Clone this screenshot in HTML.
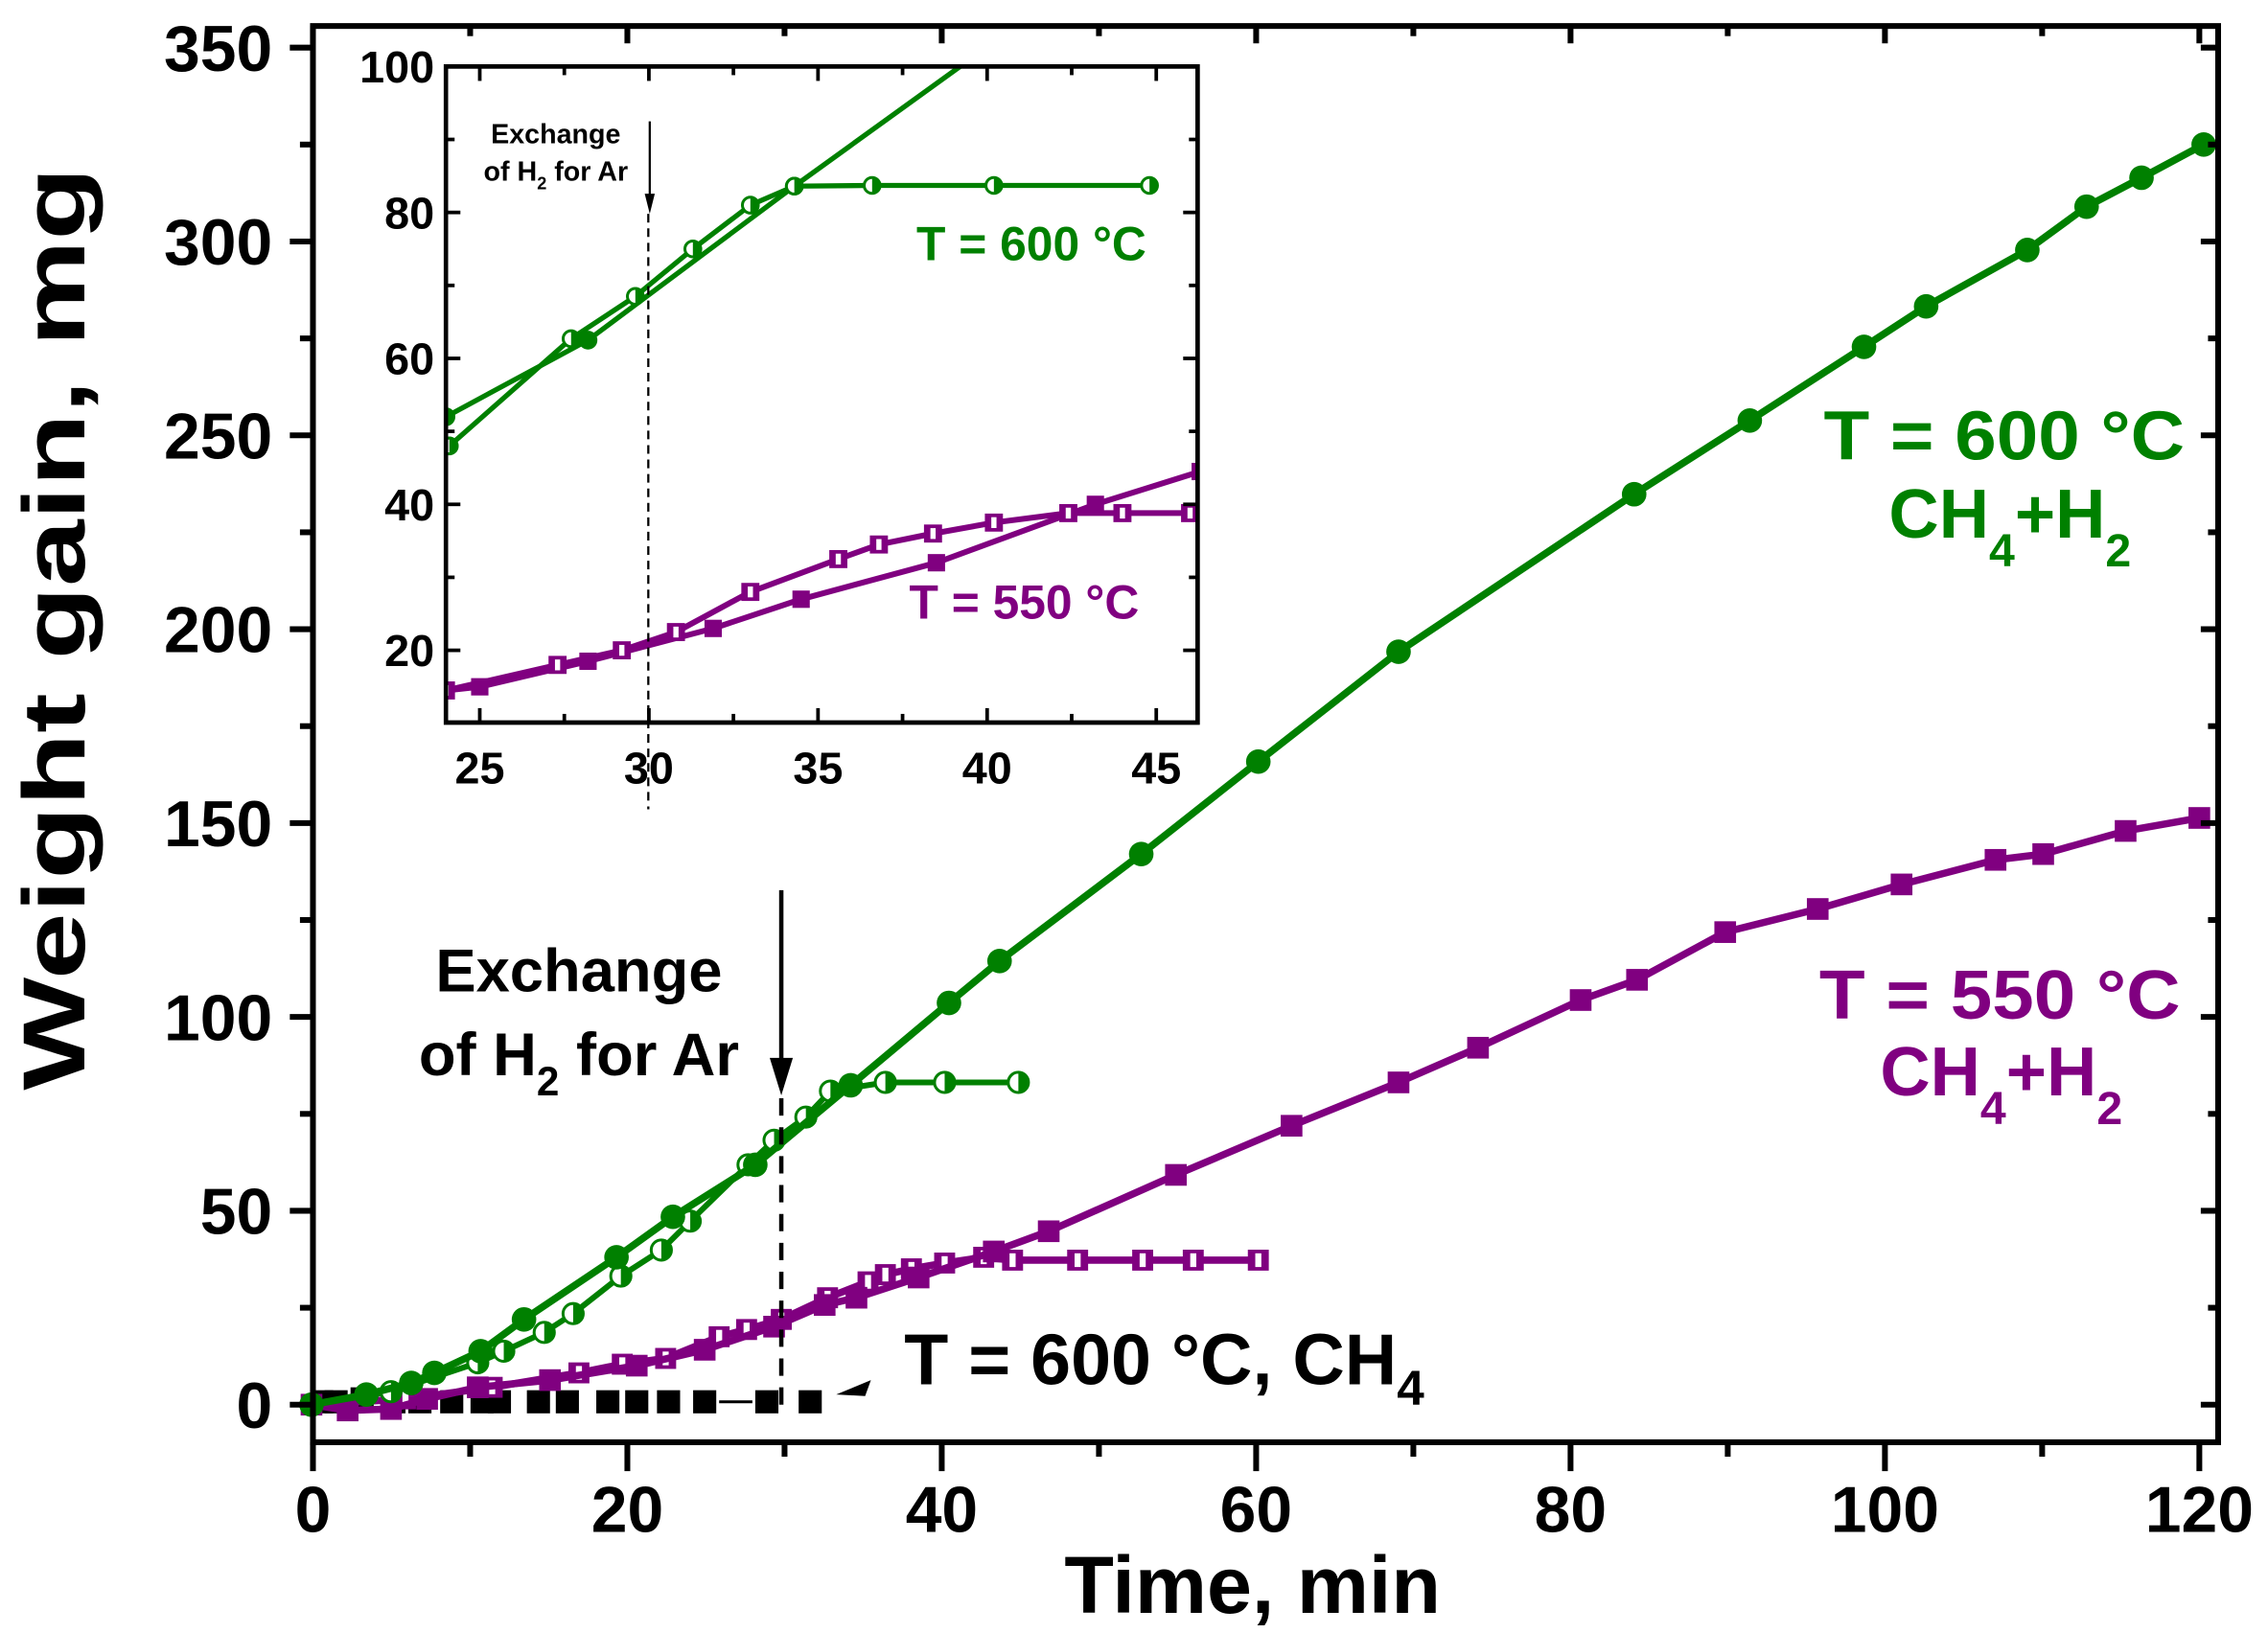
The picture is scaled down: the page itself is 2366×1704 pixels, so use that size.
<!DOCTYPE html>
<html><head><meta charset="utf-8"><style>html,body{margin:0;padding:0;background:#fff}svg{display:block}</style></head>
<body>
<svg id="s" width="2366" height="1704" viewBox="0 0 1568 1130" xmlns="http://www.w3.org/2000/svg" font-family="Liberation Sans, sans-serif" font-weight="bold">
<rect width="1568" height="1130" fill="#fff"/>
<g id="plot"></g>
<rect x="216" y="18" width="1318" height="980" fill="none" stroke="#000" stroke-width="4"/>
<g id="ticks" stroke="#000" stroke-width="4"></g>
<g font-size="45" text-anchor="middle" id="xl"></g>
<g font-size="45" text-anchor="end" id="yl"></g>
<text x="866" y="1116" font-size="56" text-anchor="middle">Time, min</text>
<text transform="translate(58 435) rotate(-90) scale(1.36 1)" font-size="61" text-anchor="middle">Weight gain, mg</text>
<text x="400" y="686" font-size="42" text-anchor="middle">Exchange</text>
<text x="400" y="744" font-size="42" text-anchor="middle">of H<tspan font-size="28" dy="14">2</tspan><tspan dy="-14"> for Ar</tspan></text>
<line x1="540" y1="616" x2="540" y2="740" stroke="#000" stroke-width="3"/>
<polygon points="532,732 548,732 540,758" fill="#000"/>
<line x1="540" y1="760" x2="540" y2="972" stroke="#000" stroke-width="3" stroke-dasharray="12,8"/>
<text x="625" y="958" font-size="50">T = 600 °C, CH<tspan font-size="34" dy="14">4</tspan></text>
<polygon points="578,965 602,955 598,966" fill="#000"/>
<g font-size="48" text-anchor="middle" fill="#008000">
<text x="1386" y="318" transform="translate(1386 0) scale(1.08 1) translate(-1386 0)">T = 600 °C</text>
<text x="1390" y="372">CH<tspan font-size="32" dy="20">4</tspan><tspan dy="-20">+H</tspan><tspan font-size="32" dy="20">2</tspan></text>
</g>
<g font-size="48" text-anchor="middle" fill="#800080">
<text x="1383" y="705" transform="translate(1383 0) scale(1.08 1) translate(-1383 0)">T = 550 °C</text>
<text x="1384" y="758">CH<tspan font-size="32" dy="20">4</tspan><tspan dy="-20">+H</tspan><tspan font-size="32" dy="20">2</tspan></text>
</g>
<rect x="308" y="46" width="520" height="454" fill="#fff" stroke="#000" stroke-width="3"/>
<g id="inset"></g>
<rect x="308" y="46" width="520" height="454" fill="none" stroke="#000" stroke-width="3"/>
<g id="iticks" stroke="#000" stroke-width="2.5"></g>
<g font-size="31" id="ilab"></g>
<text x="384" y="99" font-size="19" text-anchor="middle">Exchange</text>
<text x="384" y="125" font-size="19" text-anchor="middle">of H<tspan font-size="12" dy="6">2</tspan><tspan dy="-6"> for Ar</tspan></text>
<line x1="449" y1="84" x2="449" y2="140" stroke="#000" stroke-width="1.5"/>
<polygon points="445.5,134 452.5,134 449,148" fill="#000"/>
<line x1="448" y1="148" x2="448" y2="560" stroke="#000" stroke-width="1.5" stroke-dasharray="6,4"/>
<text x="713" y="180" font-size="33" fill="#008000" text-anchor="middle">T = 600 °C</text>
<text x="708" y="428" font-size="33" fill="#800080" text-anchor="middle">T = 550 °C</text>
<script>
const NS="http://www.w3.org/2000/svg";
function el(p,t,a){const e=document.createElementNS(NS,t);for(const k in a)e.setAttribute(k,a[k]);p.appendChild(e);return e;}
const G='#008000',P='#800080';
function series(par,pts,col,w,mk,ms){
 el(par,'polyline',{points:pts.map(p=>p.join(',')).join(' '),fill:'none',stroke:col,'stroke-width':w,'stroke-linejoin':'round'});
 pts.forEach(([x,y])=>{
  if(mk=='fc')el(par,'circle',{cx:x,cy:y,r:ms,fill:col});
  else if(mk=='hc'){el(par,'circle',{cx:x,cy:y,r:ms-1,fill:'#fff',stroke:col,'stroke-width':2});el(par,'path',{d:`M${x},${y-ms+1} A${ms-1},${ms-1} 0 0 1 ${x},${y+ms-1}Z`,fill:col});}
  else if(mk=='fs')el(par,'rect',{x:x-ms,y:y-ms,width:2*ms,height:2*ms,fill:col});
  else if(mk=='hs'){el(par,'rect',{x:x-ms+1,y:y-ms+1,width:2*ms-2,height:2*ms-2,fill:'#fff',stroke:col,'stroke-width':2.5});el(par,'rect',{x:x-ms,y:y-ms,width:ms*0.7,height:2*ms,fill:col});el(par,'rect',{x:x+ms*0.3,y:y-ms,width:ms*0.7,height:2*ms,fill:col});}
 });
}
const pl=document.getElementById('plot');
const bk=[[222,970],[232,970],[250,968],[272,970],[290,970],[312,970],[333,970],[345,970],[372,970],[392,970],[420,970],[440,970],[462,970],[487,970],[530,970],[560,970]];
series(pl,[[497,970],[520,970]],'#000',2,'none',0);
bk.forEach(([x,y])=>el(pl,'rect',{x:x-8,y:y-8,width:16,height:16,fill:'#000'}));
series(pl,[[215,972],[280,968],[340,960],[400,950],[430,944],[460,940],[497,925],[516,920],[540,913],[572,898],[600,887],[612,882],[630,878],[653,874],[680,870],[700,872],[745,872],[790,872],[825,872],[870,872]],P,5,'hs',7);
series(pl,[[215,972],[240,976],[270,975],[295,968],[330,960],[380,955],[440,945],[487,934],[535,918],[570,903],[592,898],[635,884],[687,866],[725,852],[813,813],[893,779],[967,749],[1022,725],[1093,692],[1132,678],[1193,645],[1257,629],[1315,612],[1380,595],[1413,591],[1470,575],[1521,566]],P,5,'fs',7.5);
series(pl,[[215,972],[270,963],[330,943],[348,935],[376,922],[396,909],[429,883],[457,865],[477,845],[517,806],[535,789],[557,773],[574,755],[612,749],[653,749],[704,749]],G,4,'hc',8);
series(pl,[[215,972],[253,965],[284,957],[300,950],[332,935],[362,913],[426,870],[465,842],[522,806],[588,751],[656,694],[691,665],[789,591],[870,527],[967,451],[1130,342],[1210,291],[1289,240],[1332,212],[1402,173],[1443,143],[1481,123],[1524,100]],G,5,'fc',8.5);
const tk=document.getElementById('ticks'),xl=document.getElementById('xl'),yl=document.getElementById('yl');
for(let v=0;v<=120;v+=10){const x=216+v*10.875;el(tk,'line',{x1:x,y1:998,x2:x,y2:v%20==0?1018:1008});el(tk,'line',{x1:x,y1:18,x2:x,y2:v%20==0?30:25});
 if(v%20==0){const t=el(xl,'text',{x:x,y:1060});t.textContent=v;}}
for(let v=0;v<=350;v+=25){const y=972-v*2.683;el(tk,'line',{x1:216,y1:y,x2:v%50==0?200:207,y2:y});el(tk,'line',{x1:1534,y1:y,x2:v%50==0?1522:1527,y2:y});
 if(v%50==0){const t=el(yl,'text',{x:188,y:y+16});t.textContent=v;}}
const ins=document.getElementById('inset');
const ix=v=>308+(v-24)*23.4, iy=v=>450-(v-20)*5.05;
const cv=a=>a.map(([x,y])=>[ix(x),iy(y)]);
const cl=el(ins,'clipPath',{id:'ic'});el(cl,'rect',{x:308,y:46,width:520,height:454});
const ig=el(ins,'g',{'clip-path':'url(#ic)'});
series(ig,cv([[24,14.5],[25,15],[28.2,18.5],[31.9,23],[34.5,27],[38.5,32],[43.2,40],[46.3,44.5]]),P,4,'fs',6);
series(ig,cv([[24,14.5],[27.3,18],[29.2,20],[30.8,22.5],[33,28],[35.6,32.5],[36.8,34.5],[38.4,36],[40.2,37.5],[42.4,38.8],[44,38.8],[46,38.8]]),P,4,'hs',6);
series(ig,cv([[24,52],[28.2,62.5],[34.3,83.6],[39.5,101]]),G,3.5,'fc',6.5);
series(ig,cv([[24.1,48],[27.7,62.7],[29.6,68.5],[31.3,75],[33,81],[34.3,83.6],[36.6,83.7],[40.2,83.7],[44.8,83.7]]),G,3.5,'hc',6.5);
const it=document.getElementById('iticks'),il=document.getElementById('ilab');
for(let v=25;v<=45;v+=2.5){const x=ix(v);el(it,'line',{x1:x,y1:500,x2:x,y2:v%5==0?490:494});el(it,'line',{x1:x,y1:46,x2:x,y2:v%5==0?56:52});
 if(v%5==0){const t=el(il,'text',{x:x,y:542,'text-anchor':'middle'});t.textContent=v;}}
for(let v=20;v<=100;v+=10){const y=iy(v);el(it,'line',{x1:308,y1:y,x2:v%20==0?318:314,y2:y});el(it,'line',{x1:828,y1:y,x2:v%20==0?818:822,y2:y});
 if(v%20==0){const t=el(il,'text',{x:300,y:y+11,'text-anchor':'end'});t.textContent=v;}}
</script>
</svg>
</body></html>
